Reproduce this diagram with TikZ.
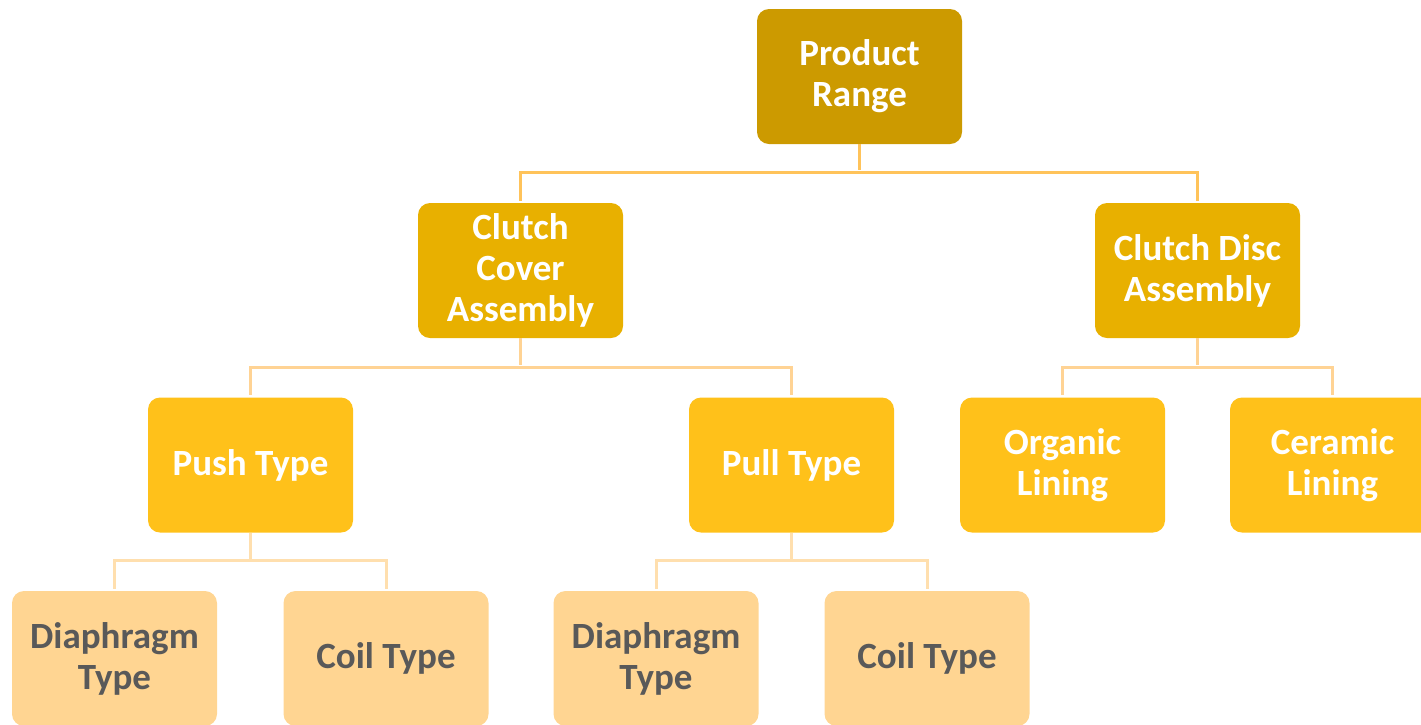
\documentclass[tikz,border=0pt]{standalone}
\usepackage{fontspec}
\setmainfont{Carlito}
\usepackage{tikz}
\usepackage{xcolor}
\usetikzlibrary{positioning}

\definecolor{rangegold}{HTML}{CC9A00}
\definecolor{assygold}{HTML}{E8B000}
\definecolor{typegold}{HTML}{FFC11A}
\definecolor{leafgold}{HTML}{FFD592}
\definecolor{leaftext}{HTML}{595959}
\definecolor{wireA}{HTML}{FFC35A}
\definecolor{wireB}{HTML}{FFD394}
\definecolor{wireC}{HTML}{FFDFAE}

\begin{document}
\begin{tikzpicture}[x=1pt,y=-1pt]
\tikzstyle{box}=[rounded corners=12pt,minimum width=205pt,minimum height=135pt,
  inner sep=0pt,align=center,font=\fontsize{37}{41}\selectfont\bfseries]
\tikzstyle{lvlzero}=[box,fill=rangegold,text=white]
\tikzstyle{lvlone}=[box,fill=assygold,text=white]
\tikzstyle{lvltwo}=[box,fill=typegold,text=white]
\tikzstyle{lvlthree}=[box,fill=leafgold,text=leaftext]
\tikzstyle{wire}=[line width=3pt,shorten >=2pt]
\useasboundingbox (0,0) rectangle (1421,724);
% boxes
\node [lvlzero] (range) at (859.5,76.5) {Product\\Range};
\node [lvlone] (cover) at (520.5,270.5) {Clutch\\Cover\\Assembly};
\node [lvlone] (disc) at (1197.5,270.5) {Clutch Disc\\Assembly};
\node [lvltwo] (push) at (250.5,465) {Push Type};
\node [lvltwo] (pull) at (791.5,465) {Pull Type};
\node [lvltwo] (organic) at (1062.5,465) {Organic\\Lining};
\node [lvltwo] (ceramic) at (1332.5,465) {Ceramic\\Lining};
\node [lvlthree] (pushdia) at (114.5,658.5) {Diaphragm\\Type};
\node [lvlthree] (pushcoil) at (386,658.5) {Coil Type};
\node [lvlthree] (pulldia) at (656,658.5) {Diaphragm\\Type};
\node [lvlthree] (pullcoil) at (927,658.5) {Coil Type};
% connectors
\draw [wire,wireA] (range.south) -- ++(0,28) coordinate (j0);
\draw [wire,wireA] (j0) -| (cover.north);
\draw [wire,wireA] (j0) -| (disc.north);
\draw [wire,wireB] (cover.south) -- ++(0,29) coordinate (j1);
\draw [wire,wireB] (j1) -| (push.north);
\draw [wire,wireB] (j1) -| (pull.north);
\draw [wire,wireB] (disc.south) -- ++(0,29) coordinate (j2);
\draw [wire,wireB] (j2) -| (organic.north);
\draw [wire,wireB] (j2) -| (ceramic.north);
\draw [wire,wireC] (push.south) -- ++(0,28) coordinate (j3);
\draw [wire,wireC] (j3) -| (pushdia.north);
\draw [wire,wireC] (j3) -| (pushcoil.north);
\draw [wire,wireC] (pull.south) -- ++(0,28) coordinate (j4);
\draw [wire,wireC] (j4) -| (pulldia.north);
\draw [wire,wireC] (j4) -| (pullcoil.north);
\end{tikzpicture}
\end{document}
